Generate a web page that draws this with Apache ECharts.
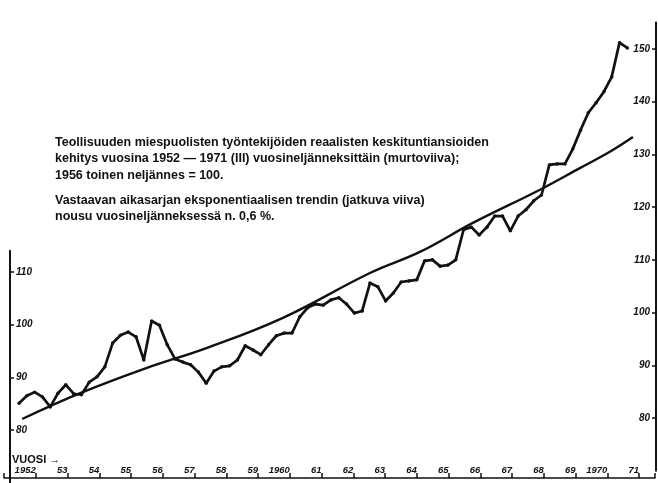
<!DOCTYPE html>
<html lang="fi">
<head>
<meta charset="UTF-8">
<title>Teollisuuden reaaliansiot 1952–1971</title>
<script src="https://cdn.jsdelivr.net/npm/echarts@6.0.0/dist/echarts.min.js"></script>
<style>
  body { margin: 0; background: #fff; }
  #chart { width: 658px; height: 483px; }
</style>
</head>
<body>
<div id="chart"></div>
<script>
// vuodet x-akselilla
const yearLabels = ['1952', '53', '54', '55', '56', '57', '58', '59', '1960', '61',
    '62', '63', '64', '65', '66', '67', '68', '69', '1970', '71'];
const firstYear = 1952;

// reaaliansioindeksi neljännesvuosittain, 1952 I ... 1971 III
const wageIndex = [
    82.8, 84.2, 84.9, 84.0,
    82.1, 84.7, 86.3, 84.6,
    84.4, 86.8, 87.8, 89.7,
    94.2, 95.7, 96.3, 95.4,
    91.0, 98.4, 97.6, 93.9,
    91.2, 90.6, 90.1, 88.7,
    86.6, 88.9, 89.7, 89.9,
    91.0, 93.7, 92.9, 92.0,
    93.9, 95.6, 96.1, 96.1,
    99.2, 100.9, 101.6, 101.4,
    102.4, 102.8, 101.6, 99.9,
    100.3, 105.6, 104.9, 102.2,
    103.7, 105.8, 106.0, 106.2,
    109.8, 110.0, 108.8, 109.0,
    110.0, 115.7, 116.2, 114.7,
    116.2, 118.3, 118.3, 115.5,
    118.3, 119.5, 121.2, 122.3,
    128.0, 128.2, 128.2, 131.0,
    134.6, 137.9, 139.8, 141.9,
    144.7, 151.2, 150.2
];

// eksponentiaalinen trendi (luettu kuvasta)
const trendYears = [1952.10, 1953.96, 1956.10, 1958.03, 1960.46, 1963.25, 1964.85, 1966.55, 1968.70, 1969.98, 1970.94, 1971.68];
const trendValues = [79.8, 84.7, 89.5, 93.3, 99.0, 107.5, 111.5, 117.0, 123.3, 127.4, 130.5, 133.3];

const rightTicks = [80, 90, 100, 110, 120, 130, 140, 150];
const leftTicks = [80, 90, 100, 110];

const noteText1 = [
    'Teollisuuden miespuolisten työntekijöiden reaalisten keskituntiansioiden',
    'kehitys vuosina 1952 — 1971 (III) vuosineljänneksittäin (murtoviiva);',
    '1956 toinen neljännes = 100.'
];
const noteText2 = [
    'Vastaavan aikasarjan eksponentiaalisen trendin (jatkuva viiva)',
    'nousu vuosineljänneksessä n. 0,6 %.'
];

const ink = '#111';
const handFont = {
    fontFamily: 'Liberation Sans',
    fontWeight: 'bold',
    fontStyle: 'italic',
    fontSize: 10,
    color: ink
};

const chart = echarts.init(document.getElementById('chart'));

const option = {
    animation: false,
    backgroundColor: '#fff',
    grid: [
        // data + oikea asteikko
        { left: 10, right: 2, top: 22.6, bottom: 12.3 },
        // vasen asteikko
        { left: 10, right: 600, top: 250.7, bottom: -2.3 },
        // vuosiakseli
        { left: 4, right: 0, top: 420, bottom: 5 }
    ],
    xAxis: [
        { gridIndex: 0, type: 'value', min: 1951.71, max: 1972.42, show: false },
        { gridIndex: 1, type: 'value', show: false },
        {
            gridIndex: 2,
            type: 'value',
            min: 0,
            max: 20.5,
            interval: 1,
            position: 'bottom',
            axisLine: { show: true, lineStyle: { color: ink, width: 1.5 } },
            axisTick: { show: true, inside: true, length: 5, lineStyle: { color: ink, width: 1.5 } },
            axisLabel: Object.assign({}, handFont, {
                inside: true,
                margin: 3,
                align: 'right',
                fontSize: 9.5,
                formatter: v => (Number.isInteger(v) && v >= 1 && v <= yearLabels.length) ? yearLabels[v - 1] : ''
            }),
            splitLine: { show: false }
        }
    ],
    yAxis: [
        {
            gridIndex: 0,
            type: 'value',
            position: 'right',
            min: 70,
            max: 155,
            interval: 10,
            axisLine: { show: true, lineStyle: { color: ink, width: 2 } },
            axisTick: { show: true, inside: true, length: 4, customValues: rightTicks, lineStyle: { color: ink, width: 1.5 } },
            axisLabel: Object.assign({}, handFont, {
                inside: true,
                margin: 6,
                customValues: rightTicks,
                formatter: v => rightTicks.includes(v) ? String(v) : ''
            }),
            splitLine: { show: false }
        },
        {
            gridIndex: 1,
            type: 'value',
            position: 'left',
            min: 70,
            max: 114,
            interval: 10,
            axisLine: { show: true, lineStyle: { color: ink, width: 2 } },
            axisTick: { show: true, inside: true, length: 4, customValues: leftTicks, lineStyle: { color: ink, width: 1.5 } },
            axisLabel: Object.assign({}, handFont, {
                inside: true,
                margin: 6,
                customValues: leftTicks,
                formatter: v => leftTicks.includes(v) ? String(v) : ''
            }),
            splitLine: { show: false }
        },
        { gridIndex: 2, type: 'value', show: false }
    ],
    graphic: [
        {
            type: 'text',
            left: 55,
            top: 134,
            style: {
                text: noteText1.join('\n'),
                font: 'bold 12.5px "Liberation Sans"',
                lineHeight: 16.5,
                fill: ink
            }
        },
        {
            type: 'text',
            left: 55,
            top: 192,
            style: {
                text: noteText2.join('\n'),
                font: 'bold 12.5px "Liberation Sans"',
                lineHeight: 16.5,
                fill: ink
            }
        },
        {
            type: 'text',
            left: 12,
            top: 454,
            style: {
                text: 'VUOSI →',
                font: 'bold 11px "Liberation Sans"',
                fill: ink
            }
        }
    ],
    series: [
        {
            name: 'Reaaliansiot',
            type: 'line',
            xAxisIndex: 0,
            yAxisIndex: 0,
            data: wageIndex.map((v, i) => [firstYear + i / 4, v]),
            symbol: 'circle',
            symbolSize: 3.5,
            itemStyle: { color: ink },
            lineStyle: { color: ink, width: 2.7 },
            z: 3
        },
        {
            name: 'Trendi',
            type: 'line',
            xAxisIndex: 0,
            yAxisIndex: 0,
            data: trendYears.map((t, i) => [t, trendValues[i]]),
            smooth: 0.4,
            showSymbol: false,
            lineStyle: { color: ink, width: 2.4 },
            z: 2
        }
    ]
};

chart.setOption(option);
</script>
</body>
</html>
